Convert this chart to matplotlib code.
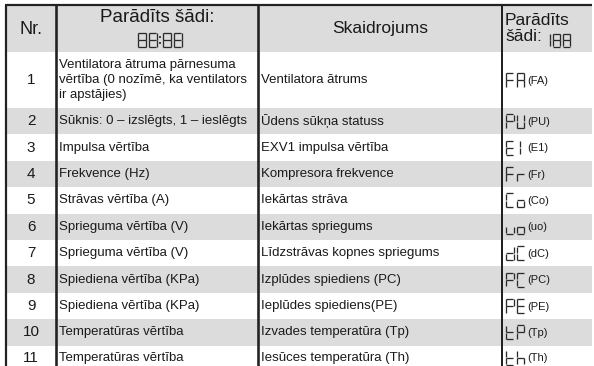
import matplotlib
matplotlib.use("Agg")
import matplotlib.pyplot as plt
from matplotlib.patches import Rectangle

plt.rcParams['font.family'] = ['Liberation Sans', 'DejaVu Sans']

# ---- data ----
headers = ["Nr.", "Parādīts šādi:", "Skaidrojums", "Parādīts\nšādi:"]
nr = ["1", "2", "3", "4", "5", "6", "7", "8", "9", "10", "11"]
descriptions = [
    "Ventilatora ātruma pārnesuma\nvērtība (0 nozīmē, ka ventilators\nir apstājies)",
    "Sūknis: 0 – izslēgts, 1 – ieslēgts",
    "Impulsa vērtība",
    "Frekvence (Hz)",
    "Strāvas vērtība (A)",
    "Sprieguma vērtība (V)",
    "Sprieguma vērtība (V)",
    "Spiediena vērtība (KPa)",
    "Spiediena vērtība (KPa)",
    "Temperatūras vērtība",
    "Temperatūras vērtība",
]
explanations = [
    "Ventilatora ātrums",
    "Ūdens sūkņa statuss",
    "EXV1 impulsa vērtība",
    "Kompresora frekvence",
    "Iekārtas strāva",
    "Iekārtas spriegums",
    "Līdzstrāvas kopnes spriegums",
    "Izplūdes spiediens (PC)",
    "Ieplūdes spiediens(PE)",
    "Izvades temperatūra (Tp)",
    "Iesūces temperatūra (Th)",
]
codes = ["FA", "PU", "E1", "Fr", "Co", "uo", "dC", "PC", "PE", "tP", "th"]
code_labels = ["(FA)", "(PU)", "(E1)", "(Fr)", "(Co)", "(uo)", "(dC)", "(PC)", "(PE)", "(Tp)", "(Th)"]

# seven-segment definitions
SEG = {
    '8': 'abcdefg', 'F': 'aefg', 'A': 'abcefg', 'P': 'abefg', 'U': 'bcdef',
    'E': 'adefg', '1': 'bc', 'r': 'eg', 'C': 'adef', 'o': 'cdeg', 'u': 'cde',
    'd': 'bcdeg', 't': 'defg', 'h': 'cefg', '|': 'fe',
}

W, H = 594, 366
fig = plt.figure(figsize=(W / 100, H / 100), dpi=100)
ax = fig.add_axes([0, 0, 1, 1])
ax.set_xlim(0, W)
ax.set_ylim(H, 0)
ax.axis('off')

GRAY = '#dcdcdc'
LINE = '#222222'
TXT = '#1a1a1a'
px = 0.72  # points per pixel

# geometry
x_left, x_c1, x_c2, x_c3, x_right = 6, 56, 258, 502, 592
y_top, y_head = 5, 52
row1_h = 56
row_h = 26.4
row_tops = [y_head]
for i in range(1, len(nr)):
    row_tops.append(y_head + row1_h + (i - 1) * row_h)
row_bots = row_tops[1:] + [row_tops[-1] + row_h]


def seven_seg(x0, yc, text, w=7, h=14, step=10, lw=1.3, color='#2a2a2a', gap=0.45):
    x = x0
    for ch in text:
        if ch == ':':
            for yy in (yc - 3, yc + 3):
                ax.plot([x + 1, x + 1], [yy - 0.6, yy + 0.6], color=color, lw=lw * px * 1.3,
                        solid_capstyle='butt')
            x += 4
            continue
        segs = SEG.get(ch, '')
        t, m, b = yc - h / 2, yc, yc + h / 2
        l, r = x, x + w
        g = gap
        d = {
            'a': ([l + g, r - g], [t, t]),
            'g': ([l + g, r - g], [m, m]),
            'd': ([l + g, r - g], [b, b]),
            'f': ([l, l], [t + g, m - g]),
            'e': ([l, l], [m + g, b - g]),
            'b': ([r, r], [t + g, m - g]),
            'c': ([r, r], [m + g, b - g]),
        }
        for s in segs:
            xs, ys = d[s]
            ax.plot(xs, ys, color=color, lw=lw * px, solid_capstyle='butt')
        x += step


# header background
ax.add_patch(Rectangle((x_left, y_top), x_right - x_left, y_head - y_top, color=GRAY, lw=0))
# row backgrounds
for i in range(len(nr)):
    if i % 2 == 1:
        ax.add_patch(Rectangle((x_left, row_tops[i]), x_right - x_left,
                               row_bots[i] - row_tops[i], color=GRAY, lw=0))

# lines
ax.plot([x_left - 1, x_right], [y_top, y_top], color=LINE, lw=2.2 * px, solid_capstyle='butt')
for xv, lw in [(x_left, 2.2), (x_c1, 2.6), (x_c2, 2.6), (x_c3, 2.0)]:
    ax.plot([xv, xv], [y_top, H], color=LINE, lw=lw * px, solid_capstyle='butt')

# header text
ax.text((x_left + x_c1) / 2, 29, headers[0], ha='center', va='center', fontsize=13, color=TXT)
ax.text((x_c1 + x_c2) / 2, 18, headers[1], ha='center', va='center', fontsize=13.5, color=TXT)
seven_seg(138, 40, "88:88", w=8, h=14, step=10.5, lw=1.3)
ax.text((x_c2 + x_c3) / 2, 29, headers[2], ha='center', va='center', fontsize=12.5, color=TXT)
ax.text(505, 28.5, headers[3], ha='left', va='center', fontsize=12.5, color=TXT,
        linespacing=1.05)
seven_seg(550, 40, "|", w=7, h=13, lw=1.3)
seven_seg(553, 40, "88", w=7, h=13, step=10, lw=1.3)

# body
for i in range(len(nr)):
    yc = (row_tops[i] + row_bots[i]) / 2
    if i == len(nr) - 1:
        yc = row_tops[i] + 12
    ax.text((x_left + x_c1) / 2, yc, nr[i], ha='center', va='center', fontsize=11, color=TXT)
    ax.text(x_c1 + 3, yc, descriptions[i], ha='left', va='center', fontsize=9.5, color=TXT,
            linespacing=1.35)
    ax.text(x_c2 + 3, yc, explanations[i], ha='left', va='center', fontsize=9.5, color=TXT)
    code = codes[i]
    if code == 'E1':
        seven_seg(506, yc, 'E', w=7.5, h=14)
        seven_seg(512, yc, '1', w=7.5, h=14)
    else:
        seven_seg(506, yc, code, w=7.5, h=14, step=10.5)
    ax.text(527, yc + 0.5, code_labels[i], ha='left', va='center', fontsize=8, color=TXT)

fig.savefig("out.png", dpi=100)
